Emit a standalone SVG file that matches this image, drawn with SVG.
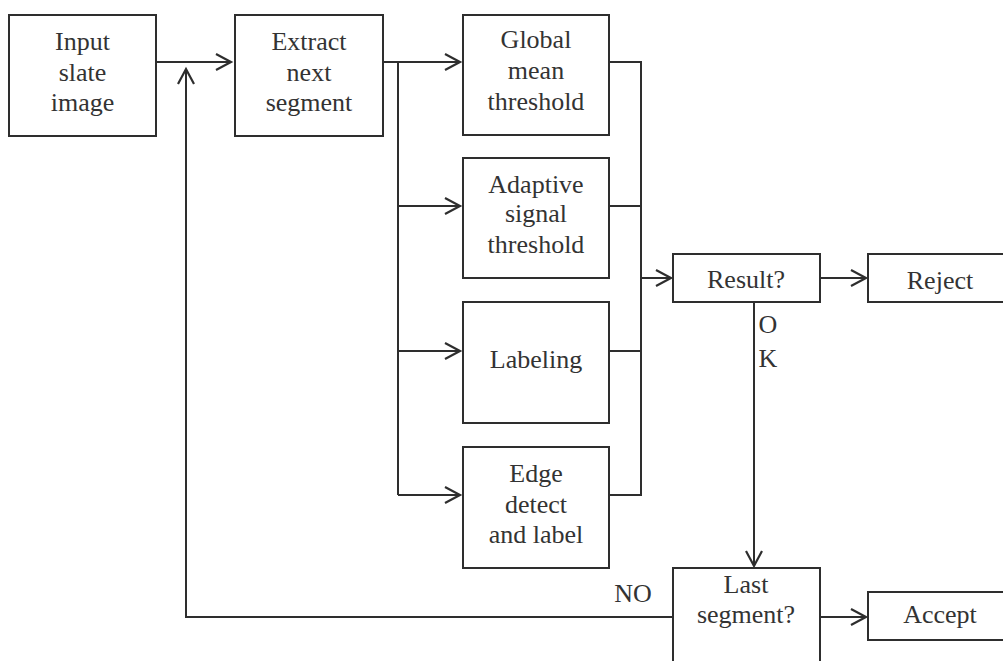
<svg xmlns="http://www.w3.org/2000/svg" width="1003" height="661" viewBox="0 0 1003 661">
<style>
.box{fill:#fff;stroke:#2e2e2e;stroke-width:2}
.t{font-family:"Liberation Serif","Times New Roman",serif;font-size:26px;fill:#333;text-anchor:middle}
.c{fill:none;stroke:#2e2e2e;stroke-width:2}
</style>
<defs>
<marker id="ah" markerUnits="userSpaceOnUse" markerWidth="24" markerHeight="24" viewBox="-18 -12 24 24" refX="0" refY="0" orient="auto">
<path d="M-15,-8 L0,0 L-15,8" fill="none" stroke="#2e2e2e" stroke-width="2.2"/>
</marker>
</defs>
<rect width="1003" height="661" fill="#fff"/>
<g id="connectors">
<path class="c" d="M156,62 H231" marker-end="url(#ah)"/>
<path class="c" d="M673,617 H186 V69" marker-end="url(#ah)"/>
<path class="c" d="M383,62 H460" marker-end="url(#ah)"/>
<path class="c" d="M398,62 V495"/>
<path class="c" d="M398,206 H460" marker-end="url(#ah)"/>
<path class="c" d="M398,351 H460" marker-end="url(#ah)"/>
<path class="c" d="M398,495 H460" marker-end="url(#ah)"/>
<path class="c" d="M609,62 H641 V495 H609"/>
<path class="c" d="M609,206 H641"/>
<path class="c" d="M609,351 H641"/>
<path class="c" d="M641,278 H671" marker-end="url(#ah)"/>
<path class="c" d="M820,278 H866" marker-end="url(#ah)"/>
<path class="c" d="M754,302 V566" marker-end="url(#ah)"/>
<path class="c" d="M820,617 H866" marker-end="url(#ah)"/>
<text class="t" x="768" y="333">O</text>
<text class="t" x="768" y="367">K</text>
<text class="t" x="633" y="602">NO</text>
</g>
<g id="input">
<rect class="box" x="9" y="15" width="147" height="121"/>
<text class="t" x="82.5" y="50">Input</text>
<text class="t" x="82.5" y="81">slate</text>
<text class="t" x="82.5" y="111">image</text>
</g>
<g id="extract">
<rect class="box" x="235" y="15" width="148" height="121"/>
<text class="t" x="309" y="50">Extract</text>
<text class="t" x="309" y="81">next</text>
<text class="t" x="309" y="111">segment</text>
</g>
<g id="global">
<rect class="box" x="463" y="15" width="146" height="120"/>
<text class="t" x="536" y="48">Global</text>
<text class="t" x="536" y="79">mean</text>
<text class="t" x="536" y="110">threshold</text>
</g>
<g id="adaptive">
<rect class="box" x="463" y="158" width="146" height="120"/>
<text class="t" x="536" y="193">Adaptive</text>
<text class="t" x="536" y="222">signal</text>
<text class="t" x="536" y="253">threshold</text>
</g>
<g id="labeling">
<rect class="box" x="463" y="302" width="146" height="121"/>
<text class="t" x="536" y="368">Labeling</text>
</g>
<g id="edge">
<rect class="box" x="463" y="447" width="146" height="121"/>
<text class="t" x="536" y="482">Edge</text>
<text class="t" x="536" y="513">detect</text>
<text class="t" x="536" y="543">and label</text>
</g>
<g id="result">
<rect class="box" x="673" y="254" width="147" height="48"/>
<text class="t" x="746" y="288">Result?</text>
</g>
<g id="reject">
<rect class="box" x="868" y="254" width="145" height="48"/>
<text class="t" x="940" y="289">Reject</text>
</g>
<g id="last">
<rect class="box" x="673" y="568" width="147" height="100"/>
<text class="t" x="746" y="593">Last</text>
<text class="t" x="746" y="623">segment?</text>
</g>
<g id="accept">
<rect class="box" x="868" y="592" width="145" height="48"/>
<text class="t" x="940" y="623">Accept</text>
</g>
</svg>
